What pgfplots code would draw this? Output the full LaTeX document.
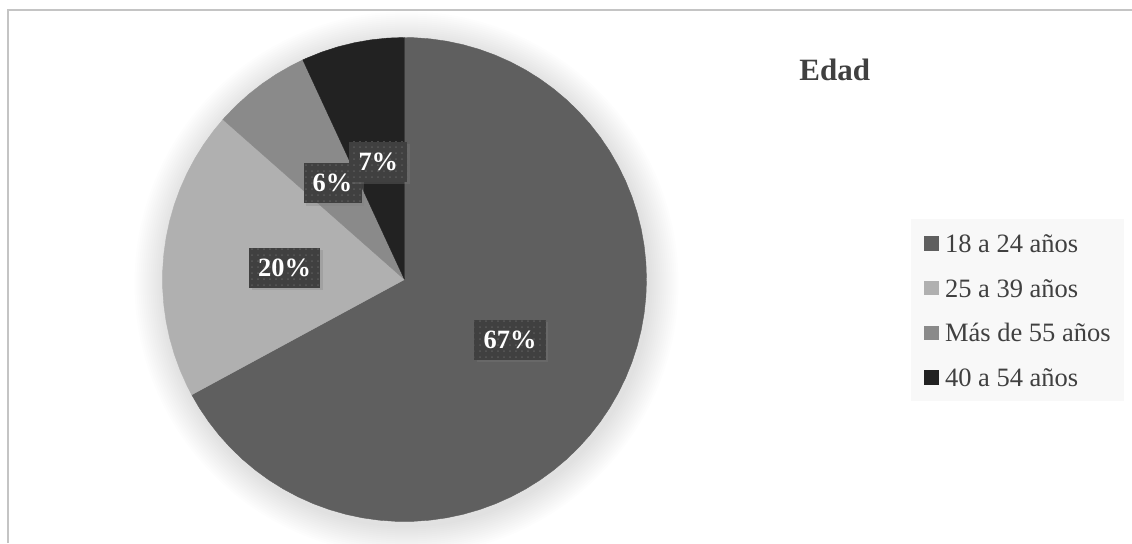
\documentclass[border=0pt]{standalone}
\usepackage{fontspec}
\setmainfont{Liberation Serif}
\usepackage{pgfplots}
\pgfplotsset{compat=1.18}
\usetikzlibrary{shadows,patterns}
\definecolor{cA}{HTML}{5F5F5F}
\definecolor{cB}{HTML}{B0B0B0}
\definecolor{cC}{HTML}{8A8A8A}
\definecolor{cD}{HTML}{222222}
\definecolor{lbl}{HTML}{404040}
\definecolor{txt}{HTML}{404040}
\definecolor{framec}{HTML}{C4C4C4}
\definecolor{legbg}{HTML}{F8F8F8}
\definecolor{dotc}{HTML}{595959}
\tikzset{pielabel/.style={fill=lbl, text=white, font=\fontsize{13.2}{15}\selectfont\bfseries,
  inner xsep=4.6pt, inner ysep=0pt, minimum height=20pt, text height=8.9pt, text depth=0pt,
  drop shadow={shadow xshift=1.3pt, shadow yshift=-1.3pt, opacity=0.3},
  postaction={pattern=dots, pattern color=dotc}}}
\begin{document}
\begin{tikzpicture}
\begin{axis}[
  set layers,
  x=0.5pt, y=0.5pt,
  xmin=-404.5, xmax=727.5, ymin=-263.5, ymax=279.5,
  hide axis, clip=false,
  legend image code/.code={\fill[#1] (0pt,-3.3pt) rectangle (6.6pt,3.3pt);},
  legend cell align=left,
  legend style={at={(axis cs:506.5,60.5)}, anchor=north west, draw=none, fill=legbg,
    text=txt, font=\fontsize{13.25}{15}\selectfont,
    inner xsep=6.5pt, inner ysep=4pt, row sep=6.65pt,
    nodes={inner sep=0pt, text height=12.5pt, text depth=3.2pt},
    /tikz/every odd column/.append style={column sep=3.5pt},
    /tikz/every even column/.append style={column sep=0pt}},
]
% 18 a 24 años (67%)
\addplot[data cs=polar, fill=cA, draw=cA, line width=0.2pt] coordinates {(0,0) (208.44,242) (212,242) (216,242) (220,242) (224,242) (228,242) (232,242) (236,242) (240,242) (244,242) (248,242) (252,242) (256,242) (260,242) (264,242) (268,242) (272,242) (276,242) (280,242) (284,242) (288,242) (292,242) (296,242) (300,242) (304,242) (308,242) (312,242) (316,242) (320,242) (324,242) (328,242) (332,242) (336,242) (340,242) (344,242) (348,242) (352,242) (356,242) (360,242) (364,242) (368,242) (372,242) (376,242) (380,242) (384,242) (388,242) (392,242) (396,242) (400,242) (404,242) (408,242) (412,242) (416,242) (420,242) (424,242) (428,242) (432,242) (436,242) (440,242) (444,242) (448,242) (450,242) (0,0)};
\addlegendentry{18 a 24 años}
% 25 a 39 años (20%)
\addplot[data cs=polar, fill=cB, draw=cB, line width=0.2pt] coordinates {(0,0) (138.6,242) (142,242) (146,242) (150,242) (154,242) (158,242) (162,242) (166,242) (170,242) (174,242) (178,242) (182,242) (186,242) (190,242) (194,242) (198,242) (202,242) (206,242) (208.44,242) (0,0)};
\addlegendentry{25 a 39 años}
% Más de 55 años (6%)
\addplot[data cs=polar, fill=cC, draw=cC, line width=0.2pt] coordinates {(0,0) (114.84,242) (118,242) (122,242) (126,242) (130,242) (134,242) (138,242) (138.6,242) (0,0)};
\addlegendentry{Más de 55 años}
% 40 a 54 años (7%)
\addplot[data cs=polar, fill=cD, draw=cD, line width=0.2pt] coordinates {(0,0) (90,242) (94,242) (98,242) (102,242) (106,242) (110,242) (114,242) (114.84,242) (0,0)};
\addlegendentry{40 a 54 años}

\begin{pgfonlayer}{axis background}
\pgfplotsinvokeforeach{244,246,248,250,252,254,256,258,260,262,264,266,268,270,272}{
  \fill[black, opacity=0.008] (axis cs:2,-4) circle[radius=#1*0.5pt];
}
\draw[framec, line width=0.65pt] (axis cs:-396.5,-263.5) -- (axis cs:-396.5,269.5) -- (axis cs:727.5,269.5);
\end{pgfonlayer}

\begin{pgfonlayer}{axis foreground}
\node[pielabel] at (axis cs:105.5,-60) {67\%};
\node[pielabel] at (axis cs:-120,12) {20\%};
\node[pielabel] at (axis cs:-72,96.5) {6\%};
\node[pielabel] at (axis cs:-26.2,117.8) {7\%};
\node[anchor=base west, text=txt, font=\fontsize{15.5}{18}\selectfont\bfseries, inner sep=0pt] at (axis cs:394.5,199.5) {Edad};
\end{pgfonlayer}
\coordinate (bl) at (rel axis cs:0,0);
\coordinate (tr) at (rel axis cs:1,1);
\end{axis}
\pgfresetboundingbox
\useasboundingbox (bl) rectangle (tr);
\end{tikzpicture}
\end{document}
